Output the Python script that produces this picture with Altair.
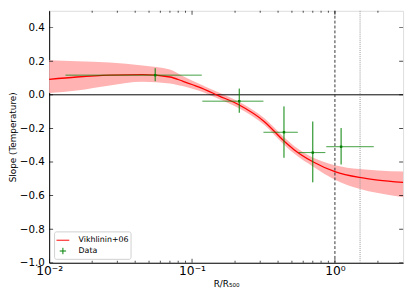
import altair as alt
import pandas as pd

# Model curve (Vikhlinin+06) and its uncertainty band
curve_x = [0.010, 0.0156, 0.0265, 0.045, 0.070, 0.086, 0.112, 0.154, 0.211, 0.321, 0.44, 0.515, 0.706, 1.00, 1.48, 2.00, 3.00]
curve_y = [0.092, 0.106, 0.117, 0.120, 0.106, 0.081, 0.046, -0.006, -0.058, -0.160, -0.275, -0.325, -0.400, -0.457, -0.492, -0.508, -0.522]
band_lo = [0.010, 0.025, 0.055, 0.077, 0.068, 0.052, 0.024, -0.025, -0.078, -0.180, -0.297, -0.348, -0.428, -0.505, -0.559, -0.585, -0.610]
band_hi = [0.205, 0.200, 0.192, 0.175, 0.150, 0.112, 0.066, 0.013, -0.040, -0.140, -0.253, -0.303, -0.375, -0.419, -0.442, -0.450, -0.457]

# Data points with errors
pt_x = [0.0552, 0.214, 0.44, 0.70, 1.105]
pt_y = [0.117, -0.038, -0.223, -0.344, -0.309]
pt_xlo = [0.013, 0.118, 0.316, 0.557, 0.87]
pt_xhi = [0.117, 0.316, 0.55, 0.857, 1.87]
pt_ylo = [0.081, -0.107, -0.375, -0.521, -0.415]
pt_yhi = [0.158, 0.037, -0.069, -0.159, -0.198]

# Axis ticks
x_major = [0.01, 0.1, 1.0]
x_minor = [0.02, 0.03, 0.04, 0.05, 0.06, 0.07, 0.08, 0.09,
           0.2, 0.3, 0.4, 0.5, 0.6, 0.7, 0.8, 0.9, 2.0]
y_major = [-1.0, -0.8, -0.6, -0.4, -0.2, 0.0, 0.2, 0.4]

# Reference lines
vline_dashed = [1.0]
vline_dotted = [1.5]
hline = [0.0]

series = ["Vikhlinin+06", "Data"]

W, H = 361, 257
FONT = "DejaVu Sans"

curve = pd.DataFrame({"x": curve_x, "y": curve_y, "lo": band_lo, "hi": band_hi})
pts = pd.DataFrame({"x": pt_x, "y": pt_y, "xlo": pt_xlo, "xhi": pt_xhi,
                    "ylo": pt_ylo, "yhi": pt_yhi, "series": series[1]})

xs = alt.Scale(type="log", domain=[0.01, 3], nice=False)
ys = alt.Scale(domain=[-1.0, 0.5], nice=False)

x_axis = alt.Axis(values=x_major, grid=False, ticks=False, tickSize=0,
                  labelExpr="datum.value < 0.05 ? '10⁻²' : datum.value < 0.5 ? '10⁻¹' : '10⁰'",
                  labelFontSize=12.5, labelPadding=2, labelFont=FONT, labelColor="black",
                  labelFlush=False, labelOverlap=False,
                  title="R/R₅₀₀", titleFontSize=9, titleFont=FONT, titleFontWeight="normal",
                  titlePadding=3, titleColor="black",
                  domainColor="black")
y_axis = alt.Axis(values=y_major, grid=False, ticks=False, tickSize=0,
                  labelExpr="replace(format(datum.value, '.1f'), '-', '−')",
                  labelFontSize=10.5, labelPadding=5, labelFont=FONT, labelColor="black",
                  labelFlush=False, labelOverlap=False,
                  title="Slope (Temperature)", titleFontSize=9, titleFont=FONT,
                  titleFontWeight="normal", titlePadding=2, titleColor="black",
                  domainColor="black")


def X(f):
    return alt.X(f, scale=xs, axis=x_axis, title="R/R₅₀₀")


def Y(f):
    return alt.Y(f, scale=ys, axis=y_axis, title="Slope (Temperature)")


band = alt.Chart(curve).mark_area(color="#ffb3b3", interpolate="monotone").encode(
    x=X("x:Q"), y=Y("lo:Q"), y2="hi:Q")

line = alt.Chart(curve).mark_line(color="#ff0000", strokeWidth=1.3, interpolate="monotone").encode(
    x=X("x:Q"), y=Y("y:Q"))

hrule = alt.Chart(pd.DataFrame({"v": hline})).mark_rule(color="black", strokeWidth=1).encode(
    y=Y("v:Q"))
vdash = alt.Chart(pd.DataFrame({"v": vline_dashed})).mark_rule(
    color="#333333", strokeWidth=1, strokeDash=[3, 2]).encode(x=X("v:Q"))
vdot = alt.Chart(pd.DataFrame({"v": vline_dotted})).mark_rule(
    color="#999999", strokeWidth=1, strokeDash=[1, 1]).encode(x=X("v:Q"))

xerr = alt.Chart(pts).mark_rule(color="green", strokeWidth=1, opacity=0.75).encode(
    x=X("xlo:Q"), x2="xhi:Q", y=Y("y:Q"))
yerr = alt.Chart(pts).mark_rule(color="green", strokeWidth=1).encode(
    x=X("x:Q"), y=Y("ylo:Q"), y2="yhi:Q")
dots = alt.Chart(pts).mark_square(color="green", size=6, opacity=1).encode(
    x=X("x:Q"), y=Y("y:Q"))

leg = alt.Legend(orient="none", legendX=5, legendY=225, title=None,
                 fillColor="white", strokeColor="#d0d0d0", cornerRadius=2,
                 padding=2, rowPadding=-1, labelFontSize=8, labelFont=FONT,
                 labelColor="black", labelOffset=9, symbolStrokeWidth=1,
                 symbolOpacity=1)
legend_layer = alt.Chart(pts).mark_point(filled=False, opacity=0, strokeWidth=1).encode(
    x=X("x:Q"), y=Y("y:Q"),
    color=alt.Color("series:N", scale=alt.Scale(domain=series, range=["#ff0000", "green"]), legend=leg),
    shape=alt.Shape("series:N", scale=alt.Scale(domain=series, range=["M-1,0H1", "M-0.5,0H0.5M0,-0.5V0.5"]), legend=leg),
    size=alt.Size("series:N", scale=alt.Scale(domain=series, range=[169, 169]), legend=leg),
)


def xticks(vals, size):
    df = pd.DataFrame({"v": vals})
    base = alt.Chart(df)
    top = base.mark_tick(orient="vertical", size=size, thickness=1, color="black", clip=True).encode(
        x=X("v:Q"), y=alt.value(0))
    bot = base.mark_tick(orient="vertical", size=size, thickness=1, color="black", clip=True).encode(
        x=X("v:Q"), y=alt.value(H))
    return [top, bot]


def yticks(vals, size):
    df = pd.DataFrame({"v": vals})
    base = alt.Chart(df)
    left = base.mark_tick(orient="horizontal", size=size, thickness=1, color="black", clip=True).encode(
        y=Y("v:Q"), x=alt.value(0))
    right = base.mark_tick(orient="horizontal", size=size, thickness=1, color="black", clip=True).encode(
        y=Y("v:Q"), x=alt.value(W))
    return [left, right]


layers = [band, hrule, vdash, vdot, line, xerr, yerr, dots, legend_layer] + \
    xticks(x_major, 8) + xticks(x_minor, 4) + yticks(y_major, 8)

chart = alt.layer(*layers).properties(
    width=W, height=H,
    autosize=alt.AutoSizeParams(type="none"),
    padding={"left": 42, "top": 0, "right": 4, "bottom": 30},
).configure_view(stroke="black", strokeWidth=1).configure(background="white")

chart.save("out.html", embed_options={"renderer": "svg", "actions": False})
